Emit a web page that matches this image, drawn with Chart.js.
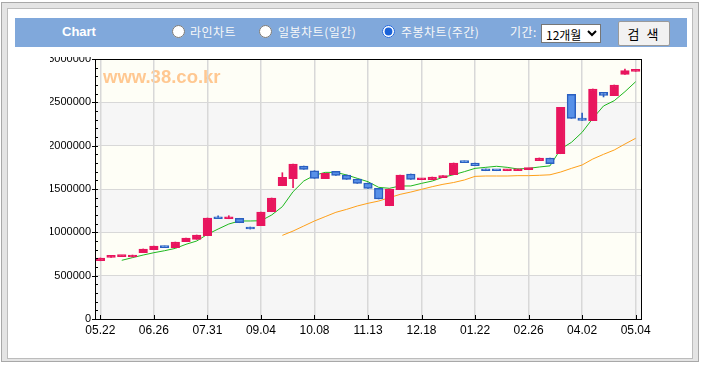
<!DOCTYPE html>
<html><head><meta charset="utf-8">
<script src="https://cdn.jsdelivr.net/npm/chart.js@4.4.1/dist/chart.umd.min.js"></script>
<style>
html,body{margin:0;padding:0;background:#fff;width:703px;height:369px;overflow:hidden;font-family:"Liberation Sans",Arial,sans-serif;}
.abs{position:absolute;}
#outer{left:1px;top:2px;width:698px;height:360px;box-sizing:border-box;border:1px solid #a8a8a8;background:#e4e4e4;}
#inner{left:7px;top:8px;width:686px;height:351px;box-sizing:border-box;border:1px solid #bcbcbc;background:#fff;}
#bar{left:15px;top:18px;width:672px;height:29px;background:#80a8db;}
.hd{color:#f8f8f8;font-family:"Noto Sans CJK KR","Liberation Sans",sans-serif;font-size:12px;letter-spacing:0.5px;line-height:14px;top:25px;white-space:nowrap;}
#title{left:62px;top:24px;color:#fff;font:bold 13px "Liberation Sans",Arial,sans-serif;line-height:16px;}
input[type=radio]{position:absolute;margin:0;width:13px;height:13px;top:25px;accent-color:#1a62d8;}
#sel{left:541px;top:24px;width:60px;height:19px;font-size:12px;font-family:"Noto Sans CJK KR",sans-serif;padding:0;border:1px solid #767676;background:#fff;color:#000;}
#btn{left:618px;top:21px;width:52px;height:25px;box-sizing:border-box;border:1px solid #9a9a9a;border-radius:2px;background:#f2f2f2;font-family:"Noto Sans CJK KR",sans-serif;font-size:13px;letter-spacing:2px;color:#000;padding:0;}
#clip{left:50px;top:57px;width:610px;height:291px;overflow:hidden;}
#cvwrap{left:-20px;top:-11px;width:625px;height:295px;}
</style></head>
<body>
<div id="outer" class="abs"></div>
<div id="inner" class="abs"></div>
<div id="bar" class="abs"></div>
<div id="title" class="abs">Chart</div>
<input type="radio" name="t" style="left:172px">
<span class="abs hd" style="left:190px">라인차트</span>
<input type="radio" name="t" style="left:259px">
<span class="abs hd" style="left:278px">일봉차트(일간)</span>
<input type="radio" name="t" checked style="left:382px">
<span class="abs hd" style="left:401px">주봉차트(주간)</span>
<span class="abs hd" style="left:510px">기간:</span>
<select id="sel" class="abs"><option>12개월</option></select>
<button id="btn" class="abs">검 색</button>
<div id="clip" class="abs"><div id="cvwrap" class="abs"><canvas id="c"></canvas></div></div>
<script>
const weeks = ['05.22','05.29','06.05','06.12','06.19','06.26','07.03','07.10','07.17','07.24','07.31','08.07','08.14','08.21','08.28','09.04','09.11','09.18','09.25','10.02','10.08','10.15','10.22','10.29','11.05','11.13','11.19','11.26','12.03','12.10','12.18','12.24','12.31','01.07','01.14','01.22','01.28','02.04','02.11','02.18','02.26','03.04','03.11','03.18','03.25','04.02','04.08','04.15','04.22','04.29','05.04'];
const opens = [672000,711000,719000,715000,765000,800000,842000,823000,892000,919000,961000,1177000,1157000,1162000,1061000,1077000,1238000,1538000,1619000,1765000,1711000,1619000,1704000,1662000,1615000,1569000,1508000,1307000,1492000,1673000,1607000,1607000,1630000,1665000,1823000,1800000,1731000,1719000,1711000,1711000,1723000,1827000,1858000,1907000,2592000,2319000,2288000,2615000,2577000,2823000,2858000];
const closes = [704000,727000,730000,738000,808000,842000,823000,888000,935000,969000,1165000,1157000,1177000,1111000,1038000,1235000,1396000,1635000,1788000,1727000,1623000,1681000,1658000,1611000,1565000,1508000,1385000,1500000,1661000,1611000,1619000,1638000,1654000,1800000,1804000,1769000,1711000,1711000,1723000,1731000,1738000,1858000,1792000,2442000,2315000,2292000,2654000,2581000,2700000,2865000,2865000];
const highs = [704000,735000,730000,738000,808000,842000,842000,888000,935000,969000,1165000,1190000,1192000,1162000,1061000,1235000,1396000,1688000,1788000,1765000,1711000,1681000,1704000,1662000,1615000,1569000,1508000,1500000,1661000,1673000,1619000,1638000,1654000,1800000,1823000,1800000,1731000,1719000,1723000,1731000,1738000,1858000,1858000,2442000,2592000,2377000,2654000,2615000,2700000,2885000,2865000];
const lows = [672000,711000,719000,715000,765000,800000,823000,823000,892000,919000,961000,1157000,1157000,1111000,1038000,1077000,1238000,1538000,1515000,1727000,1623000,1619000,1658000,1611000,1565000,1508000,1385000,1307000,1492000,1611000,1607000,1607000,1630000,1665000,1804000,1769000,1711000,1711000,1711000,1711000,1723000,1827000,1792000,1907000,2315000,2292000,2288000,2562000,2577000,2823000,2858000];
const maShort = [null,null,677000,708000,738000,765000,788000,815000,862000,900000,977000,1038000,1096000,1131000,1131000,1134000,1200000,1296000,1469000,1592000,1658000,1692000,1692000,1662000,1623000,1584000,1519000,1508000,1535000,1535000,1565000,1592000,1635000,1665000,1700000,1738000,1750000,1762000,1750000,1731000,1738000,1754000,1767000,1962000,2038000,2154000,2315000,2458000,2519000,2623000,2738000];
const maLong = [null,null,null,null,null,null,null,null,null,null,null,null,null,null,null,null,null,965000,1015000,1073000,1131000,1181000,1231000,1265000,1304000,1335000,1361000,1400000,1438000,1465000,1496000,1527000,1554000,1575000,1604000,1646000,1650000,1650000,1650000,1654000,1654000,1658000,1664000,1696000,1738000,1777000,1846000,1900000,1950000,2019000,2085000];
const yTicks = [0,500000,1000000,1500000,2000000,2500000,3000000];
const watermark = 'www.38.co.kr';

const UP = '#e8155e', DOWN_FILL = '#5790e8', DOWN_LINE = '#2a5fc0';
const isUp = opens.map((o,i)=> closes[i] >= o);
Chart.defaults.font.family = '"Liberation Sans", Arial, sans-serif';

const decor = {
  id:'decor',
  beforeDraw(chart){
    const {ctx, chartArea:a, scales:{y}} = chart;
    ctx.save();
    for (let k=0;k<yTicks.length-1;k++){
      const t = y.getPixelForValue(yTicks[k+1]), b = y.getPixelForValue(yTicks[k]);
      ctx.fillStyle = (k%2===0) ? '#f6f6f6' : '#fefef6';
      ctx.fillRect(a.left, t, a.right-a.left, b-t);
    }
    ctx.font = 'bold 18.5px "Liberation Sans", Arial, sans-serif';
    ctx.fillStyle = '#ffc891';
    ctx.textBaseline = 'alphabetic';
    ctx.fillText(watermark, a.left+8, a.top+24);
    ctx.restore();
  },
  afterDraw(chart){
    const {ctx, chartArea:a, scales:{x,y}} = chart;
    ctx.save();
    ctx.strokeStyle = '#000'; ctx.lineWidth = 1;
    ctx.beginPath();
    for (let v=0; v<=3000000; v+=100000){
      const py = Math.round(y.getPixelForValue(v))+0.5;
      ctx.moveTo(a.left, py); ctx.lineTo(a.left+3, py);
      if (v%500000===0){ ctx.moveTo(a.left-3, py); ctx.lineTo(a.left, py); }
    }
    for (let i=0;i<weeks.length;i+=5){
      const px = Math.round(x.getPixelForValue(i))+0.5;
      ctx.moveTo(px, a.bottom); ctx.lineTo(px, a.bottom-4);
    }
    ctx.stroke();
    ctx.strokeRect(Math.round(a.left)+0.5, Math.round(a.top)+0.5, Math.round(a.right-a.left), Math.round(a.bottom-a.top));
    ctx.restore();
  }
};

new Chart(document.getElementById('c'), {
  type:'bar',
  data:{
    labels: weeks,
    datasets:[
      {label:'candle', data: opens.map((o,i)=>[o, closes[i]]),
       backgroundColor: isUp.map(u=>u?UP:DOWN_FILL), borderColor: isUp.map(u=>u?UP:DOWN_LINE),
       borderWidth:1.5, borderSkipped:false, barThickness:8.6, minBarLength:2, grouped:false, order:0},
      {label:'wick', data: lows.map((l,i)=>[l, highs[i]]),
       backgroundColor: isUp.map(u=>u?UP:DOWN_LINE), borderWidth:0, barThickness:1, grouped:false, order:1},
      {type:'line', label:'MA short', data: maShort, borderColor:'#1eb81e', borderWidth:1, pointRadius:0, tension:0, order:2},
      {type:'line', label:'MA long', data: maLong, borderColor:'#ffa01a', borderWidth:1, pointRadius:0, tension:0, order:3}
    ]
  },
  options:{
    animation:false, responsive:true, maintainAspectRatio:false, devicePixelRatio:1,
    layout:{padding:{top:13,right:14,left:0,bottom:0}},
    plugins:{legend:{display:false}, tooltip:{enabled:false}},
    scales:{
      x:{offset:true,
         grid:{offset:false, drawTicks:false, lineWidth:1.5, color:c=> (c.index%5===0) ? '#d8d8d8' : 'rgba(0,0,0,0)'},
         border:{display:false},
         ticks:{autoSkip:false, maxRotation:0, minRotation:0, padding:4, color:'#000', font:{size:12},
                callback:(v,i)=> (i%5===0) ? weeks[i] : ''},
         afterFit:s=>{s.height=22;}},
      y:{min:0, max:3000000,
         afterBuildTicks:s=>{s.ticks = yTicks.map(v=>({value:v}));},
         grid:{drawTicks:false, lineWidth:1, color:'#d8d8d8'},
         border:{display:false},
         ticks:{padding:4, color:'#000', font:{size:11}, callback:v=>String(v)},
         afterFit:s=>{s.width=65;}}
    }
  },
  plugins:[decor]
});
</script>
</body></html>
